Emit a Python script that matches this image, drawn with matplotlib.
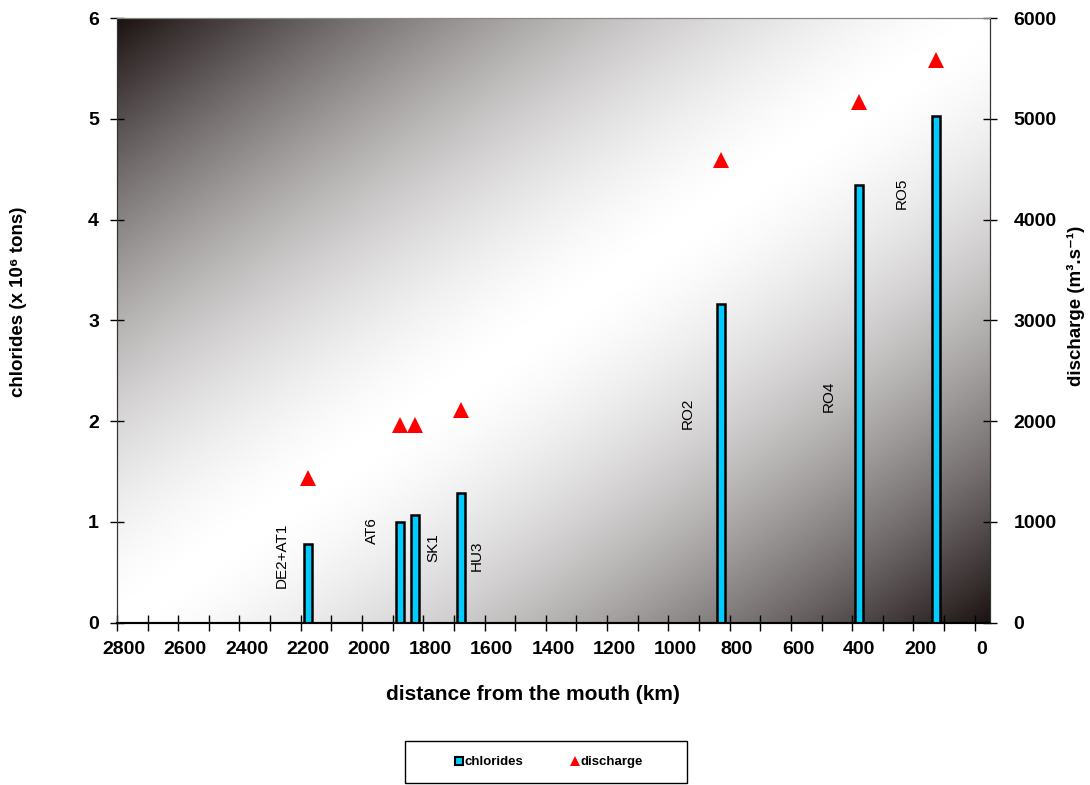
import numpy as np
import matplotlib
matplotlib.use("Agg")
import matplotlib.pyplot as plt
from matplotlib.colors import LinearSegmentedColormap
from matplotlib.patches import Rectangle
from matplotlib.lines import Line2D

plt.rcParams['font.family'] = ['Liberation Sans', 'DejaVu Sans']

# sampling stations along the river
stations = ["DE2+AT1", "AT6", "SK1", "HU3", "RO2", "RO4", "RO5"]
distance_km = [2200, 1900, 1850, 1700, 850, 400, 150]
chlorides = [0.78, 1.00, 1.07, 1.29, 3.16, 4.34, 5.03]      # x 10^6 tons
discharge = [1440, 1960, 1960, 2110, 4590, 5165, 5580]     # m3/s

# where the station names sit (data coords of the first axis)
label_x = [2286, 1992, 1789, 1649, 961, 501, 260]
label_y = [0.67, 0.91, 0.74, 0.66, 2.08, 2.25, 4.26]

# the tick marks sit slightly off the labelled values, as in the original
tick_shift = 23

fig = plt.figure(figsize=(10.9, 7.85), dpi=100)
ax = fig.add_axes([0.1073, 0.2068, 0.8010, 0.7702])
ax2 = ax.twinx()

xmin, xmax = 2800 + tick_shift, -27

# diagonal grey gradient behind the plot
nx, ny = 400, 300
gx, gy = np.meshgrid(np.linspace(0, 1, nx), np.linspace(1, 0, ny))
s = np.abs(gx - gy)
shade = 1 - s ** 1.6
cmap = LinearSegmentedColormap.from_list("bg", ["#1c1212", "#ffffff"])
ax.imshow(shade, cmap=cmap, vmin=0, vmax=1, aspect='auto',
          extent=[xmin, xmax, 0, 6], zorder=0, interpolation='bilinear')

ax.bar(distance_km, chlorides, width=26, color='#00ccff', edgecolor='black',
       linewidth=1.8, zorder=3)
ax2.plot(distance_km, discharge, linestyle='none', marker='^', markersize=11,
         color='#ff0000', markeredgewidth=0, zorder=4)

for name, lx, ly in zip(stations, label_x, label_y):
    ax.text(lx, ly, name, rotation=90, ha='center', va='center', fontsize=11,
            zorder=5)

ax.set_xlim(xmin, xmax)
ax.set_ylim(0, 6)
ax2.set_ylim(0, 6000)
# labels at the true values, tick marks shifted
ax.set_xticks(np.arange(0, 2801, 200))
ax.set_xticks(np.arange(0, 2801, 100) + tick_shift, minor=True)
ax.set_yticks(np.arange(0, 7, 1))
ax2.set_yticks(np.arange(0, 6001, 1000))

ax.tick_params(axis='x', which='major', length=0, pad=13, labelsize=14)
ax.tick_params(axis='x', which='minor', direction='inout', length=12, width=1)
ax.tick_params(axis='y', direction='inout', length=10, width=1, pad=8,
               labelsize=14)
ax2.tick_params(axis='y', direction='inout', length=10, width=1, pad=12,
                labelsize=14)
for lab in ax.get_xticklabels() + ax.get_yticklabels() + ax2.get_yticklabels():
    lab.set_fontweight('bold')

for a in (ax, ax2):
    a.spines['top'].set_color('#888888')
    a.spines['left'].set_color('#333333')
    a.spines['right'].set_color('#333333')
    a.spines['bottom'].set_color('black')
    a.spines['bottom'].set_linewidth(1.5)

ax.set_xlabel("distance from the mouth (km)", fontsize=15, fontweight='bold')
ax.xaxis.set_label_coords(0.4765, -0.103)
ax.set_ylabel("chlorides (x 10⁶ tons)", fontsize=13.5, fontweight='bold')
ax.yaxis.set_label_coords(-0.103, 0.53)
ax2.set_ylabel("discharge (m³.s⁻¹)", fontsize=13.5, fontweight='bold',
               rotation=90)
ax2.yaxis.set_label_coords(1.088, 0.524)

# legend with a plain black frame
fig.patches.append(Rectangle((0.3716, 0.0025), 0.2587, 0.0535,
                             transform=fig.transFigure, facecolor='white',
                             edgecolor='black', linewidth=1, zorder=0))
handles = [
    Line2D([], [], linestyle='none', marker='s', markersize=6,
           markerfacecolor='#00ccff', markeredgecolor='black',
           markeredgewidth=1.5),
    Line2D([], [], linestyle='none', marker='^', markersize=7,
           color='#ff0000', markeredgewidth=0),
]
fig.legend(handles, ["chlorides", "discharge"], loc='center',
           bbox_to_anchor=(0.5037, 0.029), ncol=2, frameon=False,
           prop={'size': 9.5, 'weight': 'bold'}, handlelength=0.6,
           handletextpad=0.1, columnspacing=3.6)

fig.savefig("out.png", dpi=100)
